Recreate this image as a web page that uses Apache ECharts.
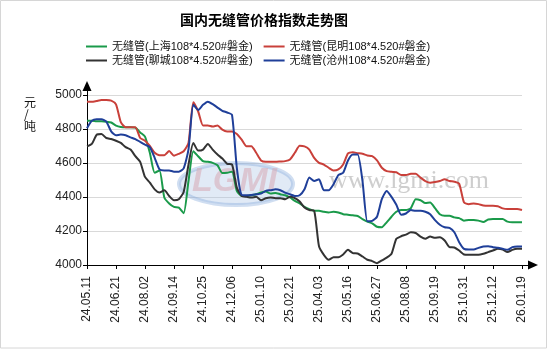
<!DOCTYPE html>
<html>
<head>
<meta charset="utf-8">
<script src="https://cdn.jsdelivr.net/npm/echarts@6/dist/echarts.min.js"></script>
<style>
html,body{margin:0;padding:0;background:#fff;}
#c{width:550px;height:350px;}
</style>
</head>
<body>
<div id="c"></div>
<script>
// x-axis tick labels (one every 6 weekly points)
var tickLabels = ['24.05.11','24.06.21','24.08.02','24.09.14','24.10.25','24.12.06','25.01.10','25.02.21','25.04.03','25.05.16','25.06.27','25.08.08','25.09.19','25.10.31','25.12.12','26.01.19'];

var seriesNames = ['无缝管(上海108*4.520#磐金)','无缝管(昆明108*4.520#磐金)','无缝管(聊城108*4.520#磐金)','无缝管(沧州108*4.520#磐金)'];

// 上海 (green)
var shanghai = [4848,4848,4845,4845,4843,4838,4820,4812,4810,4810,
4808,4780,4755,4660,4543,4556,4397,4362,4342,4338,
4305,4494,4669,4640,4611,4607,4601,4587,4541,4543,
4549,4436,4406,4406,4410,4416,4426,4432,4420,4424,
4416,4410,4397,4377,4362,4342,4329,4319,4319,4313,
4309,4313,4309,4299,4296,4292,4288,4270,4255,4245,
4225,4222,4251,4284,4313,4323,4323,4334,4387,4381,
4364,4368,4334,4299,4290,4290,4280,4276,4261,4265,
4265,4261,4253,4268,4270,4270,4270,4255,4251,4251,4251];

// 昆明 (red)
var kunming = [4960,4960,4965,4970,4970,4967,4945,4840,4810,4810,
4811,4747,4731,4700,4660,4646,4646,4670,4643,4654,
4669,4718,4957,4903,4821,4821,4815,4821,4796,4786,
4786,4770,4737,4698,4698,4660,4615,4607,4607,4607,
4609,4611,4621,4660,4702,4698,4679,4630,4601,4591,
4572,4556,4562,4591,4656,4663,4658,4654,4644,4640,
4615,4572,4552,4548,4546,4529,4529,4537,4537,4514,
4494,4484,4488,4494,4504,4494,4490,4478,4368,4358,
4362,4358,4350,4348,4348,4346,4333,4329,4329,4329,4323];

// 聊城 (black)
var liaocheng = [4698,4712,4766,4770,4747,4741,4731,4718,4693,4679,
4640,4607,4518,4484,4445,4426,4440,4406,4381,4387,
4430,4590,4718,4673,4679,4712,4679,4650,4626,4595,
4591,4455,4406,4401,4397,4401,4381,4393,4397,4393,
4393,4387,4401,4393,4373,4338,4323,4319,4110,4060,
4031,4046,4046,4062,4089,4070,4068,4050,4031,4023,
4011,4027,4043,4066,4154,4169,4179,4192,4188,4167,
4154,4167,4160,4163,4144,4105,4103,4085,4062,4060,
4060,4060,4066,4076,4085,4095,4091,4076,4089,4095,4095];

// 沧州 (blue)
var cangzhou = [4805,4848,4858,4858,4844,4786,4763,4767,4763,4751,
4741,4724,4708,4693,4630,4562,4556,4556,4549,4549,
4568,4680,4942,4912,4942,4961,4946,4926,4907,4897,
4883,4572,4412,4410,4412,4416,4420,4436,4440,4445,
4440,4426,4416,4406,4410,4445,4514,4494,4504,4440,
4440,4475,4529,4543,4615,4650,4650,4494,4257,4260,
4284,4387,4436,4401,4354,4296,4303,4323,4319,4319,
4313,4299,4264,4237,4222,4218,4193,4134,4095,4091,
4091,4101,4109,4111,4105,4101,4095,4089,4105,4109,4109];

var colors = ['#1a9a4a','#c9403a','#333333','#1f3f99'];
var FONT = '"Liberation Sans", "Noto Sans CJK SC", sans-serif';

function pairs(arr){ return arr.map(function(v,i){ return [i, v]; }); }

var chart = echarts.init(document.getElementById('c'), null, {renderer:'canvas'});
var dataSets = [shanghai, kunming, liaocheng, cangzhou];
var series = dataSets.map(function(d, k){
  return {
    name: seriesNames[k], type: 'line', data: pairs(d),
    showSymbol: false, symbol: 'none', smooth: 0.2,
    lineStyle: {width: 2, color: colors[k]}, itemStyle: {color: colors[k]},
    z: 3
  };
});

var legendBase = {
  left: 86, itemWidth: 21, itemHeight: 2, itemGap: 11, icon: 'rect',
  textStyle: {fontSize: 11, color: '#111', fontFamily: FONT}, padding: 0
};

chart.setOption({
  animation: false,
  color: colors,
  textStyle: {fontFamily: FONT},
  title: {
    text: '国内无缝管价格指数走势图', left: 175, top: 9,
    textStyle: {fontSize: 14, fontWeight: 'bold', color: '#000', fontFamily: FONT}
  },
  legend: [
    Object.assign({}, legendBase, {top: 41, data: [seriesNames[0], seriesNames[1]]}),
    Object.assign({}, legendBase, {top: 55, data: [seriesNames[2], seriesNames[3]]})
  ],
  grid: {left: 87, right: 28, top: 95, bottom: 85, containLabel: false},
  xAxis: {
    type: 'value', min: 0, max: 90, interval: 6,
    axisLine: {show: true, lineStyle: {color: '#000', width: 1}, symbol: ['none','triangle'], symbolSize: [9, 10], symbolOffset: [0, 11]},
    axisTick: {show: true, length: 4, lineStyle: {color: '#000'}},
    axisLabel: {
      rotate: 90, fontSize: 12, color: '#222', margin: 11, fontFamily: FONT,
      formatter: function(v){ var k = Math.round(v/6); return tickLabels[k] || ''; }
    },
    splitLine: {show: false}
  },
  yAxis: {
    type: 'value', min: 4000, max: 5000, interval: 200,
    axisLine: {show: true, lineStyle: {color: '#000', width: 1}, symbol: ['none','triangle'], symbolSize: [9, 10], symbolOffset: [0, 9]},
    axisTick: {show: true, length: 4, lineStyle: {color: '#000'}},
    axisLabel: {fontSize: 12, color: '#222', margin: 5, fontFamily: FONT,
      formatter: function(v){ return String(v); }},
    splitLine: {show: true, lineStyle: {color: '#d9d9d9', width: 1}}
  },
  graphic: [
    {type: 'rect', silent: true, z: -10, shape: {x: 0.5, y: 0.5, width: 546, height: 347.5}, style: {fill: 'none', stroke: '#d6d6d6', lineWidth: 1}},
    {type: 'ellipse', silent: true, z: 1, shape: {cx: 236, cy: 184, rx: 57, ry: 21}, style: {fill: 'rgba(170,195,228,0.35)', stroke: 'rgba(120,160,215,0.35)', lineWidth: 4}},
    {type: 'text', silent: true, z: 1, left: 192, top: 165, style: {text: 'LGMI', font: 'bold italic 34px "Liberation Sans"', fill: 'rgba(215,170,180,0.55)'}},
    {type: 'text', silent: true, z: 1, left: 329, top: 168, style: {text: 'www.lgmi.com', font: '26px "Liberation Serif"', fill: 'rgba(190,190,190,0.75)'}},
    {type: 'text', silent: true, left: 24, top: 96, style: {text: '元\n/\n吨', font: '12px "Noto Sans CJK SC"', lineHeight: 12, fill: '#111', align: 'left'}},
    {type: 'line', silent: true, z: 5, shape: {x1: 87.5, y1: 96, x2: 87.5, y2: 88}, style: {stroke: '#000', lineWidth: 1}},
    {type: 'line', silent: true, z: 5, shape: {x1: 521, y1: 265.5, x2: 530, y2: 265.5}, style: {stroke: '#000', lineWidth: 1}}
  ],
  series: series
});
</script>
</body>
</html>
